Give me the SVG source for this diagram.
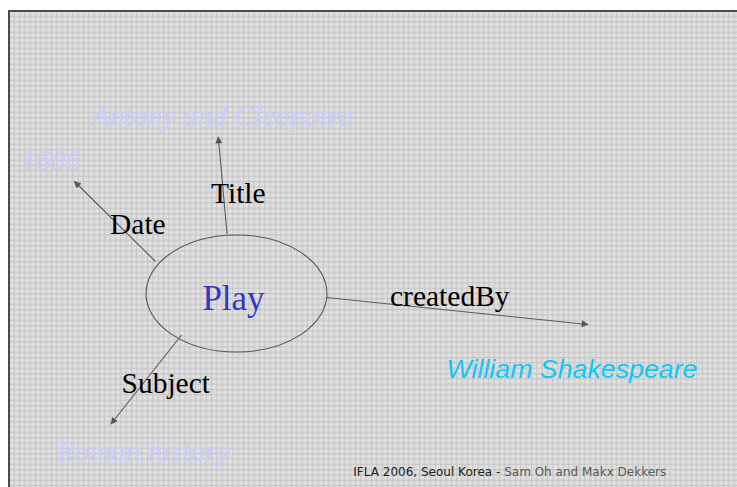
<svg xmlns="http://www.w3.org/2000/svg" width="737" height="487" viewBox="0 0 737 487">
  <defs>
    <pattern id="grid" x="8.33" y="10.33" width="5.333" height="5.333" patternUnits="userSpaceOnUse">
      <rect width="5.333" height="5.333" fill="#dfdfdf"/>
      <path d="M0.5 0V5.333M0 0.5H5.333" stroke="#c4c4c4" stroke-width="1" fill="none"/>
    </pattern>
    <marker id="arrow" viewBox="0 0 10 10" refX="9" refY="5" markerWidth="9" markerHeight="7" markerUnits="userSpaceOnUse" orient="auto">
      <path d="M0 0L10 5L0 10z" fill="#555"/>
    </marker>
    <style>
      .edge { stroke: #5a5a5a; stroke-width: 1.1; fill: none; marker-end: url(#arrow); }
      .lbl { font-family: "Liberation Serif", "Times New Roman", serif; font-size: 29.5px; fill: #000; }
      .val { font-family: "Liberation Serif", "Times New Roman", serif; font-size: 29.5px; font-style: italic; fill: #ccccff; }
    </style>
  </defs>
  <rect x="0" y="0" width="737" height="487" fill="#fff"/>
  <rect x="8" y="10" width="729" height="477" fill="url(#grid)"/>
  <path d="M9 10V487M8 11H737" stroke="#4a4a4a" stroke-width="2" fill="none"/>

  <g id="connectors">
    <line class="edge" x1="227" y1="234" x2="218.3" y2="137"/>
    <line class="edge" x1="155.5" y1="261.5" x2="74.5" y2="181.5"/>
    <line class="edge" x1="326.5" y1="297.5" x2="588" y2="324.5"/>
    <line class="edge" x1="181.5" y1="335" x2="111" y2="424"/>
  </g>

  <g id="play">
    <ellipse cx="236.5" cy="293.5" rx="90.5" ry="58.5" fill="none" stroke="#555" stroke-width="1.1"/>
    <text x="233.5" y="310" text-anchor="middle" font-family="Liberation Serif, Times New Roman, serif" font-size="35" fill="#3535c8">Play</text>
  </g>

  <g id="label-title"><text class="lbl" x="211" y="203">Title</text></g>
  <g id="label-date"><text class="lbl" x="110" y="234">Date</text></g>
  <g id="label-createdby"><text class="lbl" x="390" y="306">createdBy</text></g>
  <g id="label-subject"><text class="lbl" x="121.5" y="392.5">Subject</text></g>

  <g id="value-title"><text class="val" x="91.5" y="125.7">Antony and Cleopatra</text></g>
  <g id="value-date"><text class="val" x="21" y="170">1606</text></g>
  <g id="value-subject"><text class="val" x="56.5" y="460.5">Roman history</text></g>
  <g id="value-creator"><text x="446.5" y="377.5" font-family="Liberation Sans, Arial, sans-serif" font-size="26.5" font-style="italic" fill="#10c8f8" textLength="251" lengthAdjust="spacingAndGlyphs">William Shakespeare</text></g>

  <g id="footer">
    <text x="353.3" y="476" font-family="DejaVu Sans, Verdana, sans-serif" font-size="12" textLength="313" lengthAdjust="spacingAndGlyphs"><tspan fill="#1e1e1e">IFLA 2006, Seoul Korea -</tspan><tspan fill="#5a5a5a"> Sam Oh and Makx Dekkers</tspan></text>
  </g>
</svg>
